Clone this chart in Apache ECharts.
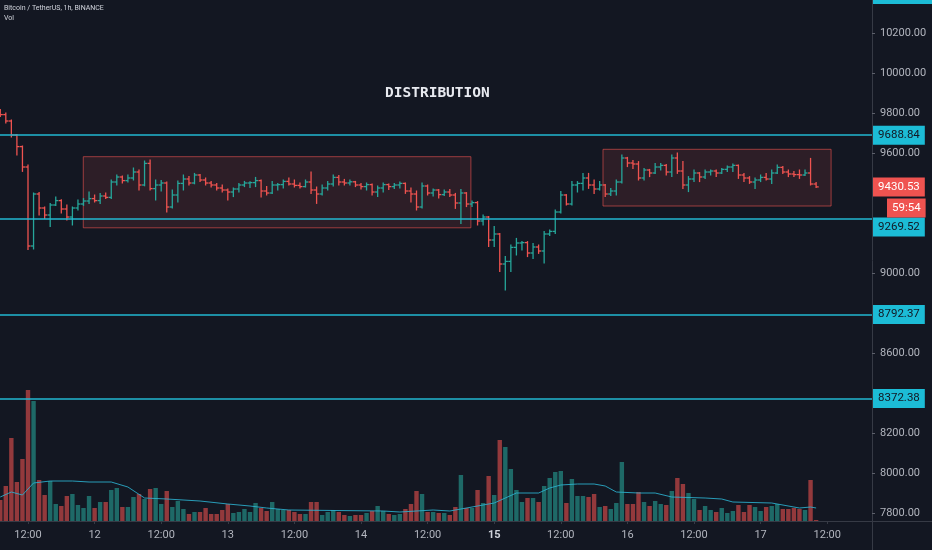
<!DOCTYPE html>
<html><head><meta charset="utf-8">
<script src="https://cdn.jsdelivr.net/npm/echarts@6/dist/echarts.min.js"></script>
<style>html,body{margin:0;padding:0;background:#131722;}#c{width:932px;height:550px;}</style>
</head><body><div id="c"></div>
<script>
// Bitcoin / TetherUS, 1h bars, first bar = 11th 07:00 (hour 7 counted from 11th 00:00)
const startHour = 7;
const open  = [9812,9792,9760,9690,9632,9530,9135,9395,9325,9290,9340,9362,9320,9280,9325,9345,9360,9372,9362,9385,9378,9455,9480,9462,9475,9505,9440,9548,9422,9440,9450,9330,9390,9448,9470,9450,9490,9465,9450,9440,9425,9415,9405,9420,9440,9450,9452,9462,9410,9400,9440,9442,9458,9445,9438,9432,9455,9415,9395,9425,9445,9478,9455,9450,9456,9440,9432,9442,9405,9425,9442,9432,9440,9448,9410,9395,9330,9435,9400,9415,9392,9405,9390,9350,9400,9345,9352,9260,9280,9165,9195,9045,9058,9128,9150,9152,9100,9130,9110,9195,9208,9305,9390,9345,9440,9448,9475,9440,9420,9440,9395,9410,9455,9575,9550,9545,9475,9515,9500,9530,9538,9505,9575,9510,9440,9470,9500,9480,9505,9510,9500,9518,9530,9538,9490,9475,9455,9465,9478,9470,9500,9528,9505,9495,9492,9490,9500,9445];
const high  = [9818,9800,9765,9692,9635,9540,9400,9402,9330,9348,9380,9366,9340,9330,9365,9372,9405,9390,9398,9400,9465,9490,9485,9490,9525,9515,9560,9565,9465,9462,9455,9415,9460,9490,9482,9498,9492,9475,9458,9448,9440,9420,9425,9448,9458,9456,9478,9465,9432,9458,9448,9465,9475,9465,9450,9465,9505,9430,9440,9458,9490,9488,9468,9465,9458,9448,9450,9445,9435,9450,9445,9447,9455,9450,9425,9410,9450,9440,9420,9418,9415,9418,9398,9418,9402,9360,9357,9290,9282,9232,9198,9082,9140,9173,9158,9157,9148,9140,9207,9215,9315,9407,9392,9457,9457,9498,9498,9465,9457,9442,9423,9465,9590,9578,9562,9557,9523,9518,9548,9548,9542,9590,9600,9557,9482,9515,9502,9515,9515,9515,9523,9535,9545,9540,9498,9482,9475,9490,9498,9515,9540,9532,9515,9507,9515,9515,9573,9452];
const low   = [9782,9750,9680,9590,9508,9118,9120,9290,9272,9232,9338,9300,9265,9240,9315,9338,9348,9355,9348,9372,9372,9440,9450,9455,9465,9415,9436,9415,9365,9410,9305,9325,9355,9415,9440,9446,9458,9440,9430,9415,9405,9365,9382,9405,9432,9428,9432,9380,9390,9398,9415,9425,9440,9430,9425,9430,9398,9348,9390,9415,9435,9440,9440,9440,9432,9420,9415,9390,9382,9405,9418,9423,9425,9398,9355,9315,9325,9390,9385,9375,9388,9382,9323,9248,9332,9332,9240,9240,9132,9132,9007,8915,9007,9090,9115,9082,9073,9098,9050,9188,9198,9300,9340,9340,9405,9415,9423,9398,9415,9382,9388,9390,9450,9532,9523,9465,9465,9482,9498,9515,9490,9482,9498,9423,9407,9457,9457,9473,9490,9482,9498,9507,9507,9473,9457,9448,9423,9457,9465,9448,9498,9498,9482,9482,9473,9488,9440,9428];
const close = [9792,9760,9690,9632,9530,9135,9395,9325,9290,9340,9362,9320,9280,9325,9345,9360,9372,9362,9385,9378,9455,9480,9462,9475,9505,9440,9548,9422,9440,9450,9330,9390,9448,9470,9450,9490,9465,9450,9440,9425,9415,9405,9420,9440,9450,9452,9462,9410,9400,9440,9442,9458,9445,9438,9432,9455,9415,9395,9425,9445,9478,9455,9450,9456,9440,9432,9442,9405,9425,9442,9432,9440,9448,9410,9395,9330,9435,9400,9415,9392,9405,9390,9350,9400,9345,9352,9260,9280,9165,9195,9045,9058,9128,9150,9152,9100,9130,9110,9195,9208,9305,9390,9345,9440,9448,9475,9440,9420,9440,9395,9410,9455,9575,9550,9545,9475,9515,9500,9530,9538,9505,9575,9510,9440,9470,9500,9480,9505,9510,9500,9518,9530,9538,9490,9475,9455,9465,9478,9470,9500,9528,9505,9495,9492,9490,9500,9445,9430.53];
const volume = [21,35,83,39,62,131,120,41,26,40,17,15,25,27,16,13,25,13,19,19,31,33,14,14,24,27,22,32,33,17,30,14,20,12,7,9,9,13,7,7,11,17,8,9,12,9,18,13,10,19,12,11,11,9,7,7,19,19,6,9,11,9,6,5,6,6,8,10,15,10,7,6,7,12,17,30,27,9,9,8,8,6,14,46,13,13,31,18,45,26,81,74,52,31,19,23,23,19,35,43,49,50,18,42,25,25,24,27,14,15,12,18,59,17,17,29,19,15,20,17,16,30,43,37,28,22,11,15,11,9,13,8,10,16,9,16,14,10,14,15,17,12,12,13,12,11,41,1];
// volume moving average: [bar index, value]
const volMA = [[0,24],[2,29],[4,26],[6,38],[9,40],[13,40],[16,39],[20,39],[23,34],[26,23],[30,22],[36,20],[41,17],[45,15],[48,13],[52,11],[69,10],[72,9],[78,11],[81,10],[85,14],[89,18],[93,28],[97,28],[99,33],[101,36],[104,37],[107,37],[109,35],[111,29],[115,28],[118,28],[121,24],[127,23],[130,22],[132,19],[139,18],[144,13],[146,14],[147,13]];
const levels = [9688.84, 9269.52, 8792.37, 8372.38];
const lastPrice = 9430.53;
const countdown = '59:54';
// distribution boxes: [hour from, price top, hour to, price bottom]
const zones = [[21.96, 9581.5, 91.8, 9226], [115.6, 9618.5, 156.7, 9335]];
const priceTicks = [7800, 8000, 8200, 8600, 9000, 9600, 9800, 10000, 10200];
const timeTicks = [12, 24, 36, 48, 60, 72, 84, 96, 108, 120, 132, 144, 156];

const hours = open.map((_, i) => startHour + i);
const ohlc = hours.map((h, i) => [h, open[i], close[i], low[i], high[i]]);
const volData = hours.map((h, i) => [h, volume[i]]);
const maData = volMA.map(p => [startHour + p[0], p[1]]);

const UP = '#26a69a', DOWN = '#ef5350', CYAN = '#22b8d2';
const xMin = 6.955, xMax = 164.07;
const HIDDEN = 'rgba(0,0,0,0)';

const chart = echarts.init(document.getElementById('c'));
chart.setOption({
  backgroundColor: '#131722',
  animation: false,
  textStyle: { fontFamily: 'Roboto' },
  grid: [
    { left: 0, right: 60, top: 0, bottom: 29 },
    { left: 0, right: 60, top: 390, bottom: 29 }
  ],
  xAxis: [
    { type: 'value', gridIndex: 0, min: xMin, max: xMax, show: false },
    { type: 'value', gridIndex: 1, min: xMin, max: xMax,
      axisLine: { show: true, lineStyle: { color: '#363a45' } },
      axisTick: { show: true, customValues: timeTicks, length: 3, lineStyle: { color: '#363a45' } },
      splitLine: { show: false },
      axisLabel: { customValues: timeTicks, color: '#b2b5be', fontSize: 11, margin: 9,
        formatter: v => v % 24 === 0 ? (v === 96 ? '{b|15}' : String(11 + v / 24)) : '12:00',
        rich: { b: { fontWeight: 'bold', color: '#d1d4dc', fontSize: 11 } } } }
  ],
  yAxis: [
    { type: 'value', gridIndex: 0, position: 'right', min: 7760, max: 10365,
      axisLine: { show: true, lineStyle: { color: '#363a45' } },
      axisTick: { show: true, customValues: priceTicks, length: 3, lineStyle: { color: '#5d606b' } },
      splitLine: { show: false },
      axisLabel: { customValues: priceTicks, color: '#b2b5be', fontSize: 11, margin: 8,
        formatter: v => v.toFixed(2) } },
    { type: 'value', gridIndex: 1, min: 0, max: 131, show: false }
  ],
  series: [
    { type: 'bar', xAxisIndex: 1, yAxisIndex: 1, data: volData, barWidth: 4.4, silent: true,
      itemStyle: { color: p => close[p.dataIndex] >= open[p.dataIndex] ? 'rgba(38,166,154,0.58)' : 'rgba(239,83,80,0.58)' } },
    { type: 'line', xAxisIndex: 1, yAxisIndex: 1, data: maData, showSymbol: false, silent: true,
      lineStyle: { color: 'rgba(45,180,210,0.85)', width: 1 } },
    { type: 'line', xAxisIndex: 0, yAxisIndex: 0, data: [], silent: true,
      markArea: { silent: true,
        itemStyle: { color: 'rgba(239,83,80,0.12)', borderColor: 'rgba(239,83,80,0.6)', borderWidth: 1 },
        data: zones.map(z => [{ coord: [z[0], z[1]] }, { coord: [z[2], z[3]] }]) },
      markLine: { silent: true, symbol: ['none', 'none'], animation: false,
        data: [
          ...levels.map(v => ({ yAxis: v,
            lineStyle: { color: CYAN, width: 1.5, type: 'solid' },
            label: { show: true, position: 'end', distance: 1, formatter: v.toFixed(2),
              backgroundColor: '#1cbcd6', color: '#131722', fontSize: 11.5, padding: [4, 5, 3, 5],
              offset: v === 9269.52 ? [0, 8] : [0, 0] } })),
          { yAxis: lastPrice, lineStyle: { color: HIDDEN, width: 1 },
            label: { show: true, position: 'end', distance: 1, formatter: lastPrice.toFixed(2),
              backgroundColor: '#ef5350', color: '#ffffff', fontSize: 11.5, padding: [4, 5, 3, 5] } },
          { yAxis: lastPrice, lineStyle: { color: HIDDEN, width: 1 },
            label: { show: true, position: 'end', distance: 1, formatter: countdown, offset: [14, 21],
              backgroundColor: '#ef5350', color: '#ffffff', fontSize: 11.5, padding: [4, 5, 3, 5] } }
        ] } },
    { type: 'custom', xAxisIndex: 0, yAxisIndex: 0, data: ohlc, silent: true, clip: true,
      encode: { x: 0, y: [1, 2, 3, 4] },
      renderItem: (params, api) => {
        const x = api.value(0), o = api.value(1), c = api.value(2), l = api.value(3), h = api.value(4);
        const pH = api.coord([x, h]), pL = api.coord([x, l]), pO = api.coord([x, o]), pC = api.coord([x, c]);
        const col = c >= o ? UP : DOWN;
        const t = 2.6;
        const st = { stroke: col, lineWidth: 1.3 };
        return { type: 'group', children: [
          { type: 'line', shape: { x1: pH[0], y1: pH[1] - 0.5, x2: pL[0], y2: pL[1] + 0.5 }, style: st },
          { type: 'line', shape: { x1: pO[0] - t, y1: pO[1], x2: pO[0], y2: pO[1] }, style: st },
          { type: 'line', shape: { x1: pC[0], y1: pC[1], x2: pC[0] + t, y2: pC[1] }, style: st }
        ] };
      } }
  ],
  graphic: [
    { type: 'text', left: 4, top: 5, style: { text: 'Bitcoin / TetherUS, 1h, BINANCE', fill: '#d1d4dc', font: '7px Roboto' } },
    { type: 'text', left: 4, top: 15, style: { text: 'Vol', fill: '#d1d4dc', font: '7px Roboto' } },
    { type: 'text', left: 385, top: 86, style: { text: 'DISTRIBUTION', fill: '#e8eaf0', font: 'bold 14.5px "DejaVu Sans Mono"' } },
    { type: 'rect', shape: { x: 872, y: 0, width: 60, height: 4 }, style: { fill: '#1cbcd6' } },
    { type: 'line', shape: { x1: 872.5, y1: 521, x2: 872.5, y2: 550 }, style: { stroke: '#363a45', lineWidth: 1 } },
    { type: 'line', shape: { x1: 872, y1: 521.5, x2: 932, y2: 521.5 }, style: { stroke: '#363a45', lineWidth: 1 } }
  ]
});
</script></body></html>
